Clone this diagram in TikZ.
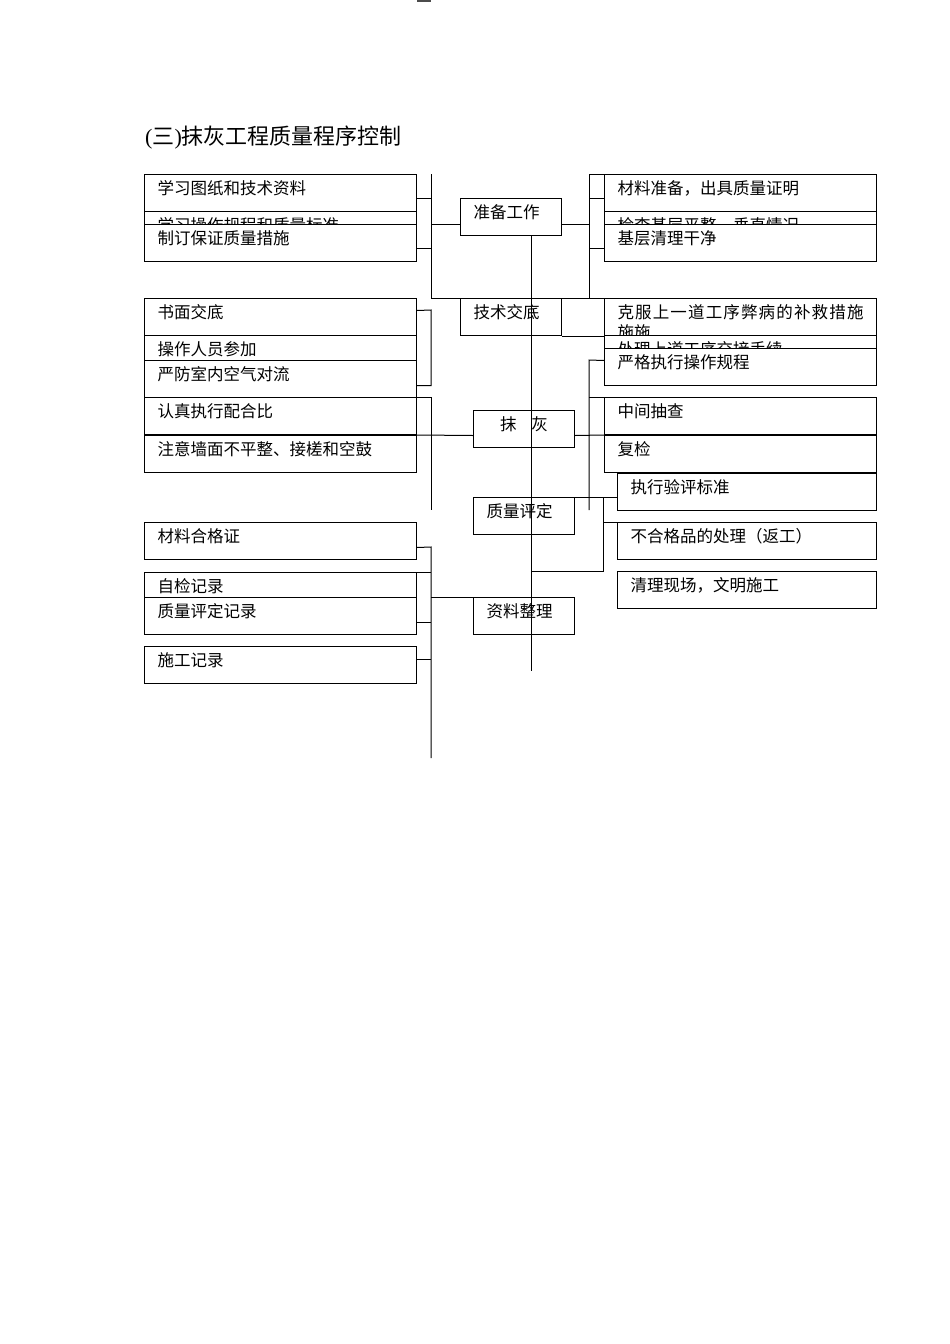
\documentclass[tikz,border=0pt]{standalone}
\usepackage{fontspec}
\setmainfont{Liberation Serif}
\newfontfamily\cjk{Noto Sans CJK SC}
\usepackage{tikz}
\usetikzlibrary{positioning}

\tikzset{
  itembox/.style={draw, line width=1pt, fill=white, anchor=north west, minimum height=37pt,
    inner xsep=13pt, inner ysep=0pt, text width=246pt, align=left,
    text height=12pt, text depth=9pt, font=\cjk\fontsize{16.5}{19.5}\selectfont},
  subbox/.style={itembox, text width=233pt},
  stagebox/.style={itembox, text width=75pt},
  link/.style={draw, line width=1pt},
}

\begin{document}
\begin{tikzpicture}[x=1pt, y=-1pt]
\useasboundingbox (0,0) rectangle (950,1344);
\fill[black!70] (417,0) rectangle (431,1.5);

\node[anchor=base west, inner sep=0pt, font=\fontsize{22}{22}\selectfont] (title) at (145,144.5) {({\cjk 三}){\cjk 抹灰工程质量程序控制}};

% left, preparation
\node[itembox] (study) at (144,174) {学习图纸和技术资料};
\node[itembox] (rules) at (144,211) {学习操作规程和质量标准};
\node[itembox] (measures) at (144,224) {制订保证质量措施};

% right, preparation
\node[itembox] (material) at (604,174) {材料准备，出具质量证明};
\node[itembox] (levelcheck) at (604,211) {检查基层平整、垂直情况};
\node[itembox] (baseclean) at (604,224) {基层清理干净};

% left, briefing and plastering
\node[itembox] (written) at (144,298) {书面交底};
\node[itembox] (workers) at (144,335) {操作人员参加};
\node[itembox] (airflow) at (144,360) {严防室内空气对流};
\node[itembox] (mixratio) at (144,397) {认真执行配合比};
\node[itembox] (wallcheck) at (144,435) {注意墙面不平整、接槎和空鼓};

% right, briefing, plastering, assessment
\node[itembox] (remedy) at (604,298) {\hbox to 246pt{克\hfil 服\hfil 上\hfil 一\hfil 道\hfil 工\hfil 序\hfil 弊\hfil 病\hfil 的\hfil 补\hfil 救\hfil 措\hfil 施}\\施施};
\node[itembox] (handover) at (604,335) {处理上道工序交接手续};
\node[itembox] (procedure) at (604,348) {严格执行操作规程};
\node[itembox] (midcheck) at (604,397) {中间抽查};
\node[itembox] (recheck) at (604,435) {复检};
\node[subbox] (standard) at (617,473) {执行验评标准};
\node[subbox] (reject) at (617,522) {不合格品的处理（返工）};
\node[subbox] (cleanup) at (617,571) {清理现场，文明施工};

% left, records
\node[itembox] (certif) at (144,522) {材料合格证};
\node[itembox] (selfcheck) at (144,572) {自检记录};
\node[itembox] (assessrec) at (144,597) {质量评定记录};
\node[itembox] (constrec) at (144,646) {施工记录};

% stages
\node[stagebox] (prep) at (460,198) {准备工作};
\node[stagebox] (brief) at (460,298) {技术交底};
\node[stagebox, align=center] (plaster) at (473,410) {抹\hspace{0.9em}灰};
\node[stagebox] (assess) at (473,497) {质量评定};
\node[stagebox] (records) at (473,597) {资料整理};

\coordinate (busL1) at (431,174);
\coordinate (busR1) at (589,174);
\coordinate (busL2) at (431,310);
\coordinate (busL3) at (431,397);
\coordinate (busL3end) at (431,510);
\coordinate (busR2) at (589,360);
\coordinate (busR2end) at (589,510);
\coordinate (busR3) at (603,497);
\coordinate (busL4) at (431,547);
\coordinate (busL4end) at (431,758);
\coordinate (trunkend) at (531,671);

% preparation
\draw[link] (busL1) -- (busL1 |- brief.north) -- (brief.north west);
\draw[link] ([yshift=-5.5pt]study.east) -- ([yshift=-5.5pt]study.east -| busL1);
\draw[link] ([yshift=-5.5pt]measures.east) -- ([yshift=-5.5pt]measures.east -| busL1);
\draw[link] ([yshift=-7.5pt]prep.west) -- ([yshift=-7.5pt]prep.west -| busL1);
\draw[link] ([yshift=-7.5pt]prep.east) -- ([yshift=-7.5pt]prep.east -| busR1);
\draw[link] (busR1) -- (busR1 |- remedy.north);
\draw[link] (busR1) -- (material.north west);
\draw[link] ([yshift=-5.5pt]material.west) -- ([yshift=-5.5pt]material.west -| busR1);
\draw[link] ([yshift=-5.5pt]baseclean.west) -- ([yshift=-5.5pt]baseclean.west -| busR1);

% briefing
\draw[link] (brief.north east) -- (remedy.north west);
\draw[link] (brief.south east) -- (remedy.south west);
\draw[link] ([yshift=6.5pt]written.east) -- (busL2) -- ([yshift=-6.5pt]airflow.east -| busL2) -- ([yshift=-6.5pt]airflow.east);

% plastering
\draw[link] (mixratio.north east) -- (busL3) -- (busL3end);
\draw[link] (wallcheck.north east) -- ([yshift=-6.5pt]plaster.west);
\draw[link] ([yshift=-6.5pt]plaster.east) -- (recheck.north west);
\draw[link] ([yshift=6.5pt]procedure.west) -- (busR2) -- (busR2end);
\draw[link] (midcheck.north west) -- (midcheck.north west -| busR2);

% assessment
\draw[link] (assess.north east) -- (assess.north east -| standard.west);
\draw[link] (busR3) -- (busR3 |- cleanup.north) -- (trunkend |- cleanup.north);
\draw[link] (reject.north west) -- (reject.north west -| busR3);

% records
\draw[link] ([yshift=-6.5pt]certif.east) -- (busL4) -- (busL4end);
\draw[link] (selfcheck.north east) -- (selfcheck.north east -| busL4);
\draw[link] ([yshift=-6.5pt]assessrec.east) -- ([yshift=-6.5pt]assessrec.east -| busL4);
\draw[link] (records.north west) -- (records.north west -| busL4);
\draw[link] ([yshift=6pt]constrec.east) -- ([yshift=6pt]constrec.east -| busL4);

% trunk
\draw[link] (trunkend |- prep.south) -- (trunkend);
\end{tikzpicture}
\end{document}
